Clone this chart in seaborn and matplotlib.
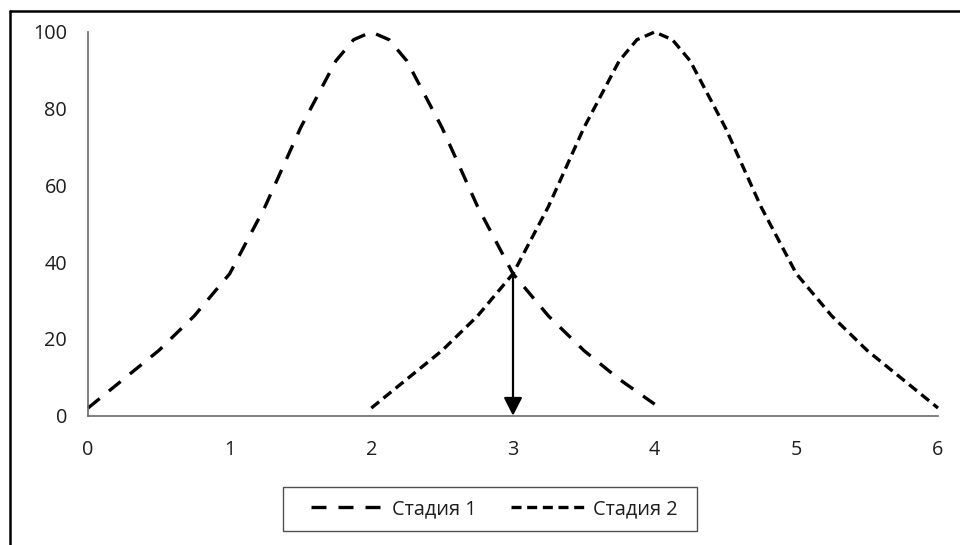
import matplotlib
matplotlib.use("Agg")
import matplotlib.pyplot as plt
from matplotlib.patches import Rectangle
from matplotlib.lines import Line2D
import seaborn as sns
import pandas as pd

# ---- data ----
stage1_x = [0, 0.25, 0.5, 0.75, 1, 1.25, 1.5, 1.75, 1.875, 2, 2.125, 2.25, 2.5, 2.75, 3, 3.25, 3.5, 3.75, 4]
stage1_y = [2, 9.5, 17, 26, 37, 54.5, 75, 92.5, 98, 100, 98, 92.5, 75, 54.5, 37, 26, 17, 9.5, 3]
stage2_x = [2, 2.25, 2.5, 2.75, 3, 3.25, 3.5, 3.75, 3.875, 4, 4.125, 4.25, 4.5, 4.75, 5, 5.25, 5.5, 5.75, 6]
stage2_y = [2, 9.5, 17, 26, 37, 54.5, 75, 92.5, 98, 100, 98, 92.5, 75, 54.5, 37, 26, 17, 9.5, 2]
series_labels = ["Стадия 1", "Стадия 2"]
x_ticks = [0, 1, 2, 3, 4, 5, 6]
y_ticks = [0, 20, 40, 60, 80, 100]
arrow_x = 3
arrow_top = 37.3
arrow_bottom = 0

df1 = pd.DataFrame({"x": stage1_x, "y": stage1_y})
df2 = pd.DataFrame({"x": stage2_x, "y": stage2_y})

sns.set_theme(style="white")
plt.rcParams["font.family"] = ["Open Sans", "DejaVu Sans"]
FS = 14.3
TXT = "#1e1e1e"
AX = "#6a6a6a"

fig = plt.figure(figsize=(9.6, 5.45), dpi=100)
ax = fig.add_axes([88 / 960, 1 - 415.7 / 545, 850 / 960, (415.7 - 32) / 545])

lw = 2.4
sns.lineplot(data=df1, x="x", y="y", ax=ax, color="black", lw=lw,
             linestyle=(0, (4.5, 3.6)), label=series_labels[0], sort=False,
             clip_on=False)
sns.lineplot(data=df2, x="x", y="y", ax=ax, color="black", lw=lw,
             linestyle=(0, (3.0, 1.7)), label=series_labels[1], sort=False,
             clip_on=False)

ax.annotate("", xy=(arrow_x, arrow_bottom), xytext=(arrow_x, arrow_top),
            arrowprops=dict(arrowstyle="-|>,head_length=0.55,head_width=0.28",
                            mutation_scale=20, lw=1.6, color="black",
                            shrinkA=0, shrinkB=0), zorder=5)

ax.set_xlim(0, 6)
ax.set_ylim(0, 100)
ax.set_xticks(x_ticks)
ax.set_yticks(y_ticks)
ax.set_xticklabels([str(t) for t in x_ticks])
ax.set_yticklabels([str(t) for t in y_ticks])
ax.set_xlabel("")
ax.set_ylabel("")
ax.tick_params(axis="both", length=0, labelsize=FS, labelcolor=TXT)
ax.tick_params(axis="x", pad=17.5)
ax.tick_params(axis="y", pad=15)
sns.despine(ax=ax)
for s in ("left", "bottom"):
    ax.spines[s].set_color(AX)
    ax.spines[s].set_linewidth(1.2)
ax.grid(False)

# legend
leg = ax.legend(loc="center", bbox_to_anchor=(494 / 960, 1 - 509 / 545),
                bbox_transform=fig.transFigure, ncol=2, frameon=False,
                fontsize=FS, handlelength=3.7, handletextpad=0.4,
                columnspacing=1.75, borderpad=0)
for t in leg.get_texts():
    t.set_color(TXT)

fig.patches.append(Rectangle((283 / 960, 1 - 531 / 545), 414 / 960, 44 / 545,
                             transform=fig.transFigure, fill=False,
                             edgecolor="#505050", lw=1.0))

# outer frame (left and top edges visible)
fig.lines.append(Line2D([9.5 / 960, 9.5 / 960], [0, 1 - 10.5 / 545],
                        transform=fig.transFigure, color="black", lw=1.8))
fig.lines.append(Line2D([9.5 / 960, 1], [1 - 10.5 / 545, 1 - 10.5 / 545],
                        transform=fig.transFigure, color="black", lw=1.8))

fig.savefig("out.png", dpi=100, facecolor="white")
